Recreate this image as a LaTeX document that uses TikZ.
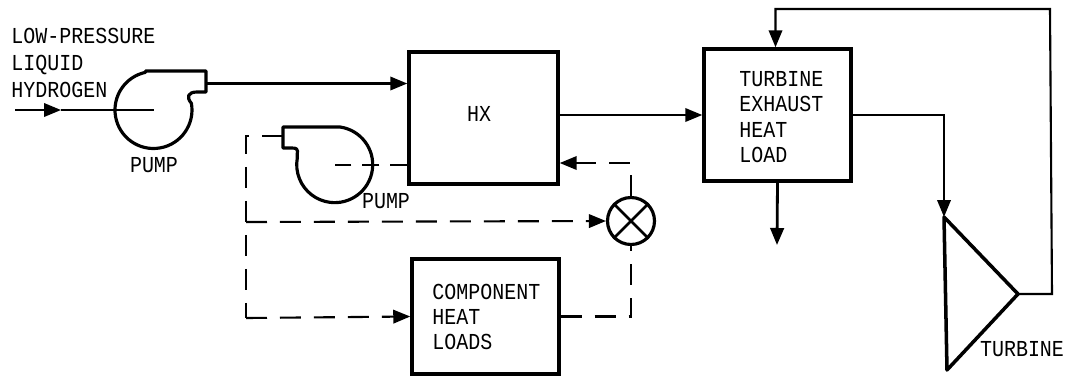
\documentclass[tikz,border=0pt]{standalone}
\usepackage{fontspec}
\setmainfont[FakeStretch=0.875]{Liberation Mono}
\usetikzlibrary{arrows.meta}
\tikzset{
    unit/.style={draw,line width=2pt,inner sep=0pt,minimum width=#1},
    lbl/.style={align=left,font=\fontsize{13}{14.4}\selectfont,inner sep=0pt},
    flow/.style={line width=1.2pt,-{Triangle[length=.34cm,width=.27cm]}},
    pipe/.style={line width=1.2pt},
    wet/.style={line width=1.2pt,dash pattern=on .42cm off .26cm},
    wetflow/.style={wet,-{Triangle[length=.34cm,width=.27cm]}},
    casing/.style={line width=1.8pt,line join=round}
}
\begin{document}
\begin{tikzpicture}[x=.02cm,y=-.02cm]
        \useasboundingbox (0,0) rectangle (1065,380);
        % boxes
        \node[unit=2.98cm,minimum height=2.64cm] (hx) at (483.5,118) {};
        \node[unit=2.94cm,minimum height=2.64cm] (exhaust) at (777.5,115) {};
        \node[unit=2.94cm,minimum height=2.30cm] (component) at (485.5,316.5) {};
        \node[draw,circle,line width=1.8pt,minimum size=.94cm,inner sep=0pt] (valve) at (631,221) {};
        \draw[line width=1.5pt] (valve.45) -- (valve.225) (valve.135) -- (valve.315);
        \node[circle,minimum size=1.54cm,inner sep=0pt] (pumpa) at (153.5,110) {};
        \node[circle,minimum size=1.52cm,inner sep=0pt] (pumpb) at (334.5,165) {};
        \coordinate (turbtop) at (944,217);
        \coordinate (turbtip) at (1018,294);
        \coordinate (turbbot) at (947,370);
        % pumps and turbine
        \draw[casing] (145.5,71) -- (206,71) -- (206,92) -- (197,92)
            .. controls (188,92) and (186,97) .. (191.4,103.3)
            arc[start angle=-10,end angle=258,radius=38.5] -- cycle;
        \draw[casing] (283,127) -- (340,127)
            arc[start angle=-82,end angle=190,radius=38]
            .. controls (296,153) and (301,148) .. (292,148) -- (283,148) -- cycle;
        \draw[line width=2pt,line join=round] (turbtop) -- (turbtip) -- (turbbot) -- cycle;
        % labels
        \node[lbl,anchor=west] (feedlabel) at (11,63) {LOW-PRESSURE\\[1pt]LIQUID\\[1pt]HYDROGEN};
        \node[lbl] (pumpalabel) at (154,165) {PUMP};
        \node[lbl] (pumpblabel) at (386,201) {PUMP};
        \node[lbl] (hxlabel) at (479,114) {HX};
        \node[lbl,anchor=west] (exhaustlabel) at (739,117) {TURBINE\\EXHAUST\\HEAT\\LOAD};
        \node[lbl,anchor=west] (componentlabel) at (432,317) {COMPONENT\\HEAT\\LOADS};
        \node[lbl] (turbinelabel) at (1022,349) {TURBINE};
        % free ends
        \coordinate (feedstart) at (15,110);
        \coordinate (feedmid) at (61,110);
        \coordinate (pumpaout) at (206,83.5);
        \coordinate (pumpbout) at (283,136);
        \coordinate (drain) at (777,245);
        \coordinate (leftup) at (246,136);
        \coordinate (leftmid) at (246,222);
        \coordinate (leftlow) at (246,318);
        % solid lines
        \draw[flow] (feedstart) -- (feedmid);
        \draw[pipe] (feedmid) -- (pumpa.center);
        \draw[flow] (pumpaout) -- (pumpaout -| hx.west);
        \draw[flow] (hx.east |- exhaust.west) -- (exhaust.west);
        \draw[flow] (turbtip) -- ++(34,0) -- (1050,9) -- ([xshift=-.04cm]exhaust.north |- 0,9) -- ([xshift=-.04cm]exhaust.north);
        \draw[flow] (exhaust.east) -- (turbtop |- exhaust.east) -- (turbtop);
        \draw[flow,line width=1.6pt] (exhaust.south) -- (drain);
        % dashed lines
        \draw[wet,dash pattern=on .34cm off .22cm] (hx.west |- pumpb.center) -- (pumpb.center);
        \draw[wet] (pumpbout) -- (leftup) -- (leftlow);
        \draw[wetflow] (leftmid) -- (valve.west);
        \draw[wetflow] (leftlow) -- (component.west);
        \draw[wetflow] (valve.north) -- (valve.north |- 0,163) -- (hx.east |- 0,163);
        \draw[wet] (component.east) -- (valve.south |- component.east) -- (valve.south);
\end{tikzpicture}
\end{document}
